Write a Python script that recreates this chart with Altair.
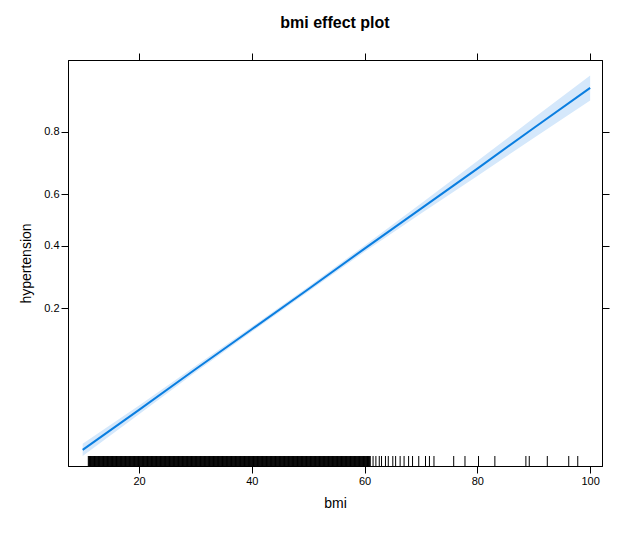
import altair as alt
import pandas as pd
import math

bmi = [10, 20, 30, 40, 50, 60, 70, 80, 90, 100]
fit_logit = [-3.62, -2.99, -2.35, -1.72, -1.09, -0.45, 0.18, 0.81, 1.45, 2.08]
se_logit = [0.05, 0.035, 0.025, 0.02, 0.02, 0.025, 0.04, 0.06, 0.08, 0.10]
rug_dense = [round(11 + i * 0.1, 1) for i in range(500)]
rug_sparse = [60.5, 61, 61.5, 62, 62.6, 63, 63.7, 64.2, 65, 65.5, 66.3, 67, 67.8, 68.5, 69.6, 70.8, 71.5, 72.3,
              75.8, 77.8, 80.2, 83.1, 88.6, 89.2, 92.4, 96.2, 97.8]
y_ticks = [0.2, 0.4, 0.6, 0.8]

df = pd.DataFrame({"bmi": bmi, "fit": fit_logit,
                   "lo": [f - 1.96 * s for f, s in zip(fit_logit, se_logit)],
                   "hi": [f + 1.96 * s for f, s in zip(fit_logit, se_logit)]})
rug = pd.DataFrame({"bmi": rug_dense + rug_sparse})
tick_vals = [math.log(p / (1 - p)) for p in y_ticks]

xs = alt.Scale(domain=[7.4, 102.1], nice=False, zero=False)
ys = alt.Scale(domain=[-3.874, 2.52], nice=False, zero=False)
lab = "format(1/(1+exp(-datum.value)), '.1f')"
ax_common = dict(domainColor="black", tickColor="black", labelColor="black", grid=False,
                 labelFont="Arial", labelFontSize=11, titleFont="Arial", titleFontSize=14,
                 titleFontWeight="normal", titleColor="black")
ax_plain = {k: v for k, v in ax_common.items() if not k.startswith("title")}

band = alt.Chart(df).mark_area(color="#d5e8fb").encode(
    x=alt.X("bmi:Q", scale=xs, axis=alt.Axis(values=[20, 40, 60, 80, 100], title="bmi", **ax_common)),
    y=alt.Y("lo:Q", scale=ys, axis=alt.Axis(values=tick_vals, labelExpr=lab, title="hypertension", **ax_common)),
    y2="hi:Q")
line = alt.Chart(df).mark_line(color="#0a7ee0", strokeWidth=2).encode(x=alt.X("bmi:Q", scale=xs), y=alt.Y("fit:Q", scale=ys))
rugm = alt.Chart(rug).mark_tick(color="black", thickness=1, size=10, opacity=1, orient="vertical").encode(
    x=alt.X("bmi:Q", scale=xs), y=alt.value(401))
frame = alt.Chart(df).mark_point(opacity=0).encode(
    x=alt.X("bmi:Q", scale=xs, axis=alt.Axis(orient="top", values=[20, 40, 60, 80, 100], labels=False, title=None, **ax_plain)),
    y=alt.Y("fit:Q", scale=ys, axis=alt.Axis(orient="right", values=tick_vals, labels=False, title=None, **ax_plain)))

main = alt.layer(band, line, rugm)
chart = alt.layer(main, frame).resolve_scale(x="independent", y="independent").properties(
    width=534, height=406,
    autosize=alt.AutoSizeParams(type="none"),
    padding={"left": 60, "top": 52, "right": 30, "bottom": 60},
    title=alt.TitleParams("bmi effect plot", font="Arial", fontSize=16, fontWeight="bold", color="black", offset=22),
).configure_view(stroke="black", strokeWidth=1).configure_axis(tickSize=7, titlePadding=10)

chart.save("out.html", embed_options={"renderer": "svg", "actions": False})
